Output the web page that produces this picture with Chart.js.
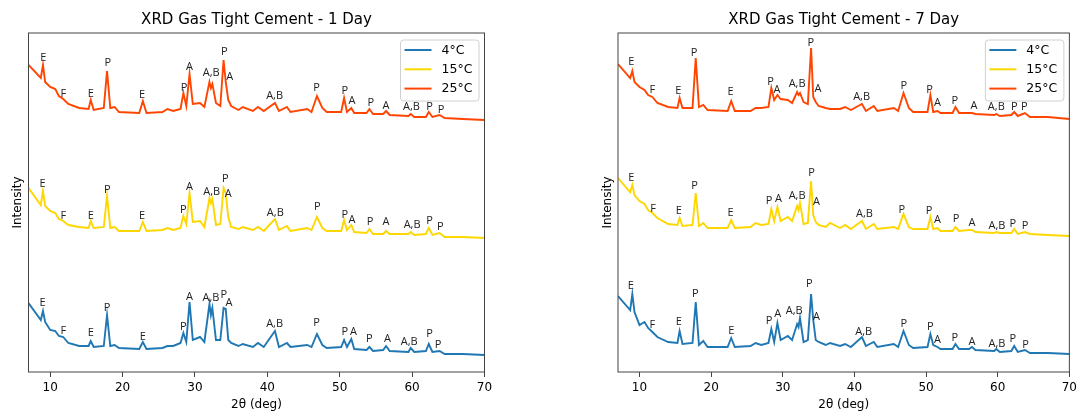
<!DOCTYPE html>
<html><head><meta charset="utf-8">
<script src="https://cdn.jsdelivr.net/npm/chart.js@4.4.1/dist/chart.umd.min.js"></script>
<style>
html,body{margin:0;padding:0;background:#fff;width:1081px;height:413px;overflow:hidden}
canvas{position:absolute;top:0}
#c1{left:0}#c2{left:540px}
</style></head><body>
<canvas id="c1" width="540" height="413"></canvas>
<canvas id="c2" width="541" height="413"></canvas>
<script>
// ---------- data ----------
const TWO_THETA = [7, 8.7, 9.0, 9.3, 10.0, 10.7, 11.2, 11.8, 12.5, 14.0,
  15.3, 15.6, 16.0, 17.4, 17.85, 18.3, 18.9, 19.5, 22.3, 22.8,
  23.3, 25.5, 26.2, 27.0, 28.0, 28.4, 28.8, 29.25, 29.7, 30.7,
  31.3, 32.0, 32.2, 32.4, 32.9, 33.5, 33.95, 34.25, 34.6, 35.0,
  36.0, 36.6, 38.0, 38.7, 39.5, 41.05, 41.6, 42.7, 43.2, 45.5,
  46.1, 46.85, 47.6, 48.2, 50.2, 50.6, 51.0, 51.6, 52.0, 53.7,
  54.1, 54.6, 56.0, 56.4, 56.9, 59.5, 59.8, 60.3, 61.9, 62.3,
  62.8, 63.8, 64.5, 67.0, 70.0];
const XTICKS = [10, 20, 30, 40, 50, 60, 70];
const SERIES_NAMES = ['4°C', '15°C', '25°C'];
const TITLES = ['XRD Gas Tight Cement - 1 Day', 'XRD Gas Tight Cement - 7 Day'];

const DAY1_4C = [69,52,61,50,42,41,36,35,29,26, 26,31,25,26,57,26,27,24,23,30, 23,24,26,26,29,39,30,70,32,35,
  30,68,57,64,32,32,64,63,32,29, 26,28,25,29,25,41,25,29,25,27, 25,38,27,24,25,32,25,33,23,22,
  25,21,22,26,21,20,24,20,21,28, 20,21,18,18,17];
const DAY1_15C = [184,167,181,166,161,159,153,151,147,145, 144,151,144,145,176,144,145,141,141,150, 141,142,144,142,144,156,148,179,150,151,
  145,174,169,173,147,148,184,179,155,145, 143,145,142,145,141,153,142,146,141,144, 142,155,144,141,141,152,142,147,140,139,
  143,138,138,141,138,138,140,137,138,144, 137,139,135,135,134];
const DAY1_25C = [307,294,307,290,285,283,276,273,268,264, 263,272,262,264,301,264,265,260,259,271, 259,260,263,261,263,279,266,298,268,269,
  265,290,284,288,269,266,312,290,272,266, 262,265,261,265,261,269,261,265,260,263, 260,276,264,260,260,274,260,264,259,259,
  263,258,258,261,257,256,258,255,255,260, 255,257,254,253,252];
const DAY7_4C = [76,62,78,60,47,50,44,40,35,30, 29,41,28,29,70,27,31,25,25,34, 25,26,29,27,29,43,30,49,32,36,
  32,48,45,54,30,32,78,52,32,30, 27,29,26,28,25,35,26,30,25,28, 25,41,27,24,25,38,27,25,23,23,
  28,23,23,25,22,21,23,20,21,26, 20,22,19,19,18];
const DAY7_15C = [194,180,187,177,171,168,162,159,154,148, 147,154,146,147,179,146,149,144,144,152, 144,145,149,147,148,163,151,165,151,155,
  151,166,162,169,148,149,191,157,150,147, 145,149,144,147,143,151,143,148,143,145, 143,158,145,143,143,155,143,144,141,141,
  145,141,142,142,140,139,140,139,139,143, 138,140,138,137,136];
const DAY7_25C = [308,294,301,290,285,282,277,275,269,265, 264,274,264,264,314,265,267,262,261,271, 261,261,264,264,265,284,272,277,273,272,
  269,280,277,279,270,268,324,275,270,266, 264,263,263,265,262,268,261,266,261,264, 261,279,264,260,260,277,260,261,259,259,
  265,259,259,259,258,257,258,256,257,260, 256,259,255,255,253];

// peak identification tags (same sequence for every pattern)
const PEAK_TAGS = ['E','F','E','P','E','P','A','A,B','P','A','A,B','P','P','A','P','A','A,B','P','P'];
const DAY1_4C_TAG_X  = [8.95,11.8,15.6,17.85,22.8,28.4,29.25,32.2,34.0,34.7,41.0,46.8,50.7,51.9,54.1,56.6,59.6,62.4,63.6];
const DAY1_4C_TAG_Y  = [69,41,39,64,35,45,75,74,77,69,48,49,40,40,33,33,30,38,27];
const DAY1_15C_TAG_X = [8.95,11.8,15.6,17.9,22.7,28.4,29.25,32.3,34.2,34.6,41.1,46.9,50.7,51.7,54.2,56.4,60.0,62.4,63.9];
const DAY1_15C_TAG_Y = [188,156,156,182,156,162,185,180,193,178,159,165,157,152,150,150,147,151,145];
const DAY1_25C_TAG_X = [9.05,11.8,15.6,17.95,22.7,28.5,29.25,32.25,34.05,34.8,41.0,46.8,50.7,51.7,54.3,56.4,59.9,62.4,64.0];
const DAY1_25C_TAG_Y = [314,278,278,309,277,284,305,299,320,295,276,284,281,271,269,266,265,265,262];
const DAY7_4C_TAG_X  = [8.8,11.8,15.5,17.8,22.8,28.1,29.3,31.6,33.7,34.7,41.3,46.9,50.6,51.6,54.0,56.4,59.9,62.1,63.9];
const DAY7_4C_TAG_Y  = [86,47,50,78,41,51,58,61,88,55,40,48,45,32,34,30,28,33,27];
const DAY7_15C_TAG_X = [8.86,11.9,15.5,17.7,22.7,28.1,29.4,32.0,34.0,34.7,41.4,46.6,50.4,51.6,54.2,56.4,59.9,62.1,63.8];
const DAY7_15C_TAG_Y = [194,163,161,186,159,171,173,176,199,170,158,162,161,152,153,149,146,148,146];
const DAY7_25C_TAG_X = [8.86,11.8,15.4,17.6,22.7,28.3,29.2,32.0,33.9,34.9,41.0,46.9,50.5,51.6,54.0,56.7,59.8,62.3,63.7];
const DAY7_25C_TAG_Y = [310,282,281,319,280,290,282,288,329,283,275,286,282,269,271,266,265,265,265];

// ---------- styling ----------
const COLORS = ['#1f77b4', '#ffd700', '#ff4500'];
const FONT = "'DejaVu Sans', sans-serif";
const TAG_FONT = "11px 'Open Sans', 'DejaVu Sans', sans-serif";
Chart.defaults.font.family = FONT;
Chart.defaults.color = '#000';

function pts(ys) { return TWO_THETA.map((x, i) => ({x: x, y: ys[i]})); }

const overlay = {
  id: 'overlay',
  afterDatasetsDraw(chart) {
    const ctx = chart.ctx, ca = chart.chartArea;
    const xs = chart.scales.x, ys = chart.scales.y;
    ctx.save();
    // peak tags
    ctx.fillStyle = '#222';
    ctx.font = TAG_FONT;
    ctx.textAlign = 'center';
    ctx.textBaseline = 'middle';
    chart.data.datasets.forEach(ds => {
      ds.tagX.forEach((tx, i) => {
        ctx.fillText(PEAK_TAGS[i], xs.getPixelForValue(tx), ys.getPixelForValue(ds.tagY[i]));
      });
    });
    // frame
    ctx.strokeStyle = '#444';
    ctx.lineWidth = 1;
    ctx.strokeRect(ca.left, ca.top, ca.right - ca.left, ca.bottom - ca.top);
    // legend
    const bw = 78.5, bh = 61;
    const bx = ca.right - 5.5 - bw, by = ca.top + 7;
    ctx.beginPath();
    if (ctx.roundRect) ctx.roundRect(bx, by, bw, bh, 3); else ctx.rect(bx, by, bw, bh);
    ctx.fillStyle = 'rgba(255,255,255,0.85)';
    ctx.fill();
    ctx.strokeStyle = '#d0d0d0';
    ctx.stroke();
    ctx.font = "12.5px " + FONT;
    ctx.textAlign = 'left';
    chart.data.datasets.forEach((ds, i) => {
      const y = by + 10 + i * 19.3;
      ctx.strokeStyle = ds.borderColor;
      ctx.lineWidth = 2;
      ctx.beginPath();
      ctx.moveTo(bx + 4, y); ctx.lineTo(bx + 31, y);
      ctx.stroke();
      ctx.fillStyle = '#000';
      ctx.fillText(ds.label, bx + 41, y + 0.5);
    });
    ctx.restore();
  }
};

function makeChart(id, title, series, tags, padLeft, padRight) {
  return new Chart(document.getElementById(id), {
    type: 'line',
    data: {
      datasets: series.map((s, i) => ({
        label: SERIES_NAMES[i],
        data: pts(s),
        borderColor: COLORS[i],
        backgroundColor: COLORS[i],
        borderWidth: 1.9,
        pointRadius: 0,
        tension: 0,
        fill: false,
        tagX: tags[i][0],
        tagY: tags[i][1]
      }))
    },
    options: {
      responsive: false,
      animation: false,
      devicePixelRatio: 1,
      layout: {padding: {left: padLeft, right: padRight, top: 0, bottom: 0}},
      plugins: {
        legend: {display: false},
        tooltip: {enabled: false},
        title: {display: true, text: title, fullSize: false, color: '#000',
          font: {size: 15, weight: 'normal'}, padding: {top: 11, bottom: 4}}
      },
      scales: {
        x: {
          type: 'linear', min: 7, max: 70,
          afterBuildTicks: s => { s.ticks = XTICKS.map(v => ({value: v})); },
          afterFit: s => { s.height = 41; },
          grid: {display: true, drawOnChartArea: false, drawTicks: true, tickLength: 5, color: '#444', tickColor: '#444'},
          border: {display: false},
          ticks: {padding: 4, color: '#000', font: {size: 12}, maxRotation: 0, autoSkip: false},
          title: {display: true, text: '2θ (deg)', color: '#000', font: {size: 12}, padding: {top: 0, bottom: 1}}
        },
        y: {
          min: 0, max: 339,
          afterFit: s => { s.width = 28.5; },
          ticks: {display: false},
          grid: {display: false},
          border: {display: false},
          title: {display: true, text: 'Intensity', color: '#000', font: {size: 12}, padding: {top: 11, bottom: 0}}
        }
      }
    },
    plugins: [overlay]
  });
}

makeChart('c1', TITLES[0], [DAY1_4C, DAY1_15C, DAY1_25C],
  [[DAY1_4C_TAG_X, DAY1_4C_TAG_Y], [DAY1_15C_TAG_X, DAY1_15C_TAG_Y], [DAY1_25C_TAG_X, DAY1_25C_TAG_Y]], 0, 55.5);
makeChart('c2', TITLES[1], [DAY7_4C, DAY7_15C, DAY7_25C],
  [[DAY7_4C_TAG_X, DAY7_4C_TAG_Y], [DAY7_15C_TAG_X, DAY7_15C_TAG_Y], [DAY7_25C_TAG_X, DAY7_25C_TAG_Y]], 49.5, 7);
</script>
</body></html>
